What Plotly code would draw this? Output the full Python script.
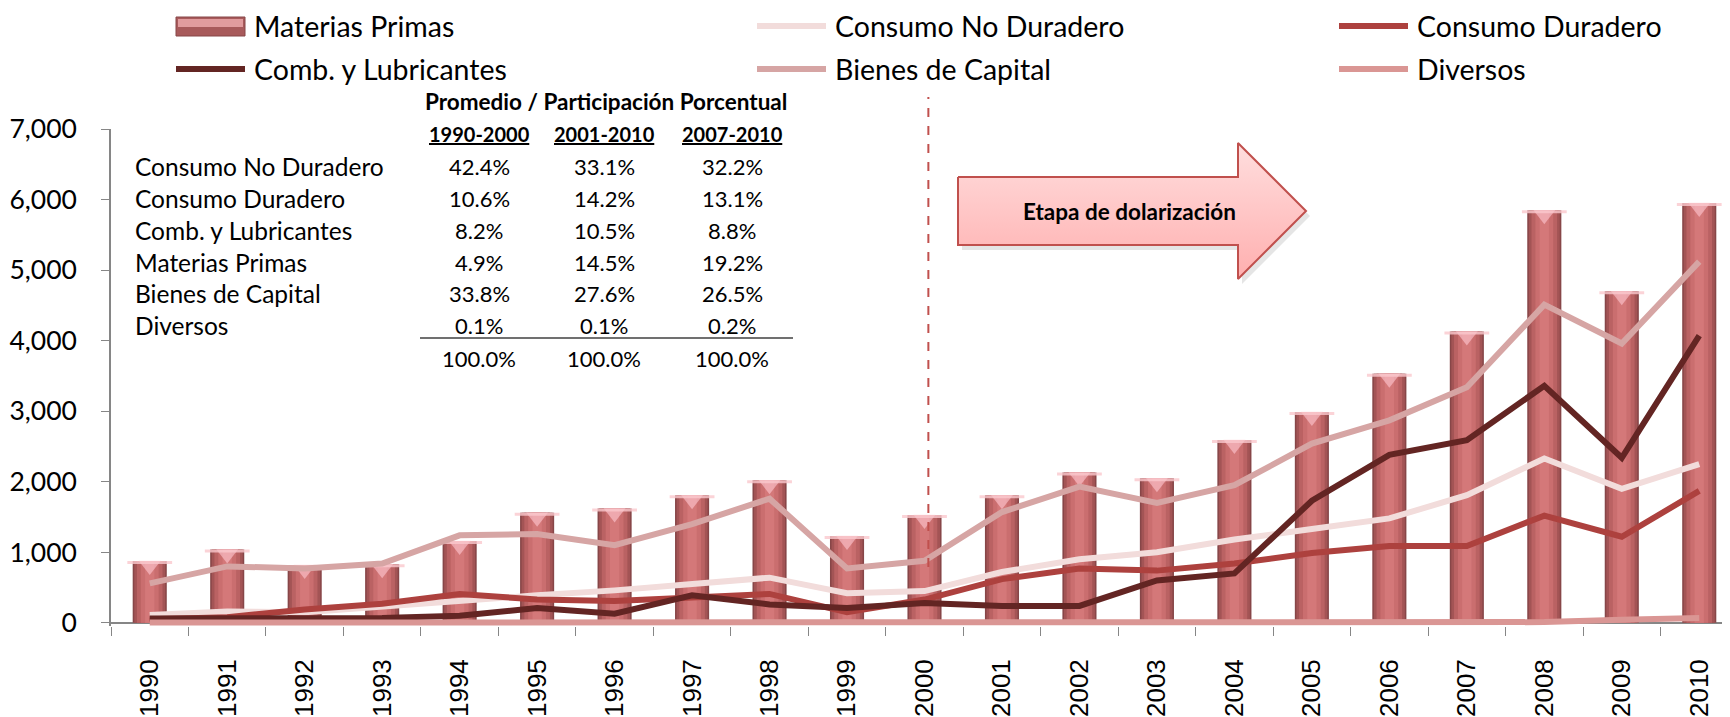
import plotly.graph_objects as go

years = [str(y) for y in range(1990, 2011)]
materias_primas = [875, 1040, 820, 830, 1160, 1560, 1620, 1810, 2020, 1230, 1530,
                   1810, 2130, 2050, 2590, 2990, 3530, 4130, 5850, 4700, 5950]
consumo_no_duradero = [110, 160, 150, 230, 330, 390, 460, 560, 640, 420, 450,
                       720, 900, 1000, 1180, 1330, 1480, 1810, 2330, 1900, 2250]
consumo_duradero = [50, 80, 190, 270, 410, 330, 310, 370, 410, 150, 330,
                    620, 770, 740, 840, 990, 1090, 1090, 1520, 1220, 1870]
comb_lubricantes = [60, 60, 70, 70, 100, 210, 130, 390, 260, 210, 280,
                    240, 240, 600, 700, 1730, 2380, 2590, 3360, 2340, 4070]
bienes_capital = [560, 800, 770, 840, 1240, 1260, 1100, 1400, 1760, 770, 880,
                  1570, 1930, 1700, 1950, 2540, 2870, 3340, 4510, 3960, 5120]
diversos = [5, 5, 5, 5, 5, 5, 5, 5, 5, 5, 5,
            5, 5, 5, 5, 5, 5, 5, 10, 45, 70]

y_ticks = [0, 1000, 2000, 3000, 4000, 5000, 6000, 7000]

table_title = "Promedio / Participación Porcentual"
table_periods = ["1990-2000", "2001-2010", "2007-2010"]
table_rows = ["Consumo No Duradero", "Consumo Duradero", "Comb. y Lubricantes",
              "Materias Primas", "Bienes de Capital", "Diversos"]
share_1990_2000 = ["42.4%", "10.6%", "8.2%", "4.9%", "33.8%", "0.1%"]
share_2001_2010 = ["33.1%", "14.2%", "10.5%", "14.5%", "27.6%", "0.1%"]
share_2007_2010 = ["32.2%", "13.1%", "8.8%", "19.2%", "26.5%", "0.2%"]
table_totals = ["100.0%", "100.0%", "100.0%"]

# page layout (the html body has an 8px margin, so the figure is offset by it)
OFF = 8
PAGE_W, PAGE_H = 1730, 717
W, H = PAGE_W - OFF, PAGE_H - OFF
P_LEFT, P_TOP, P_BOTTOM = 111, 129, 626          # plot area edges in page pixels
ML, MT, MB, MR = P_LEFT - OFF, P_TOP - OFF, H - (P_BOTTOM - OFF), 0
PW, PH = W - ML - MR, H - MT - MB
Y0, Y1 = -45, 7000


def px(p):
    return (p - P_LEFT) / PW


def py(p):
    return (P_BOTTOM - p) / PH


FONT = "Lato, 'Open Sans', sans-serif"
C_NO_DUR = "#f2dcdb"
C_DUR = "#ad413e"
C_COMB = "#632523"
C_BIEN = "#d6a5a4"
C_DIV = "#da9694"

fig = go.Figure()

# cylinder-like bars: layered widths for a horizontal shading
for w, c in [(0.44, "#874648"), (0.40, "#a35455"), (0.33, "#ba6263"),
             (0.23, "#ca6e6f"), (0.12, "#d47879")]:
    fig.add_trace(go.Bar(x=years, y=materias_primas, width=w, marker_color=c,
                         marker_line_width=0, showlegend=False, hoverinfo="skip"))

unit = (Y1 - Y0) / PH  # data units per pixel
fig.add_trace(go.Scatter(x=years, y=[v - 4.5 * unit for v in materias_primas],
                         mode="markers", showlegend=False, hoverinfo="skip",
                         marker=dict(symbol="triangle-down", size=19,
                                     color="rgba(255,200,210,0.6)", line_width=0)))
fig.add_trace(go.Scatter(x=years, y=[v - 1.5 * unit for v in materias_primas],
                         mode="markers", showlegend=False, hoverinfo="skip",
                         marker=dict(symbol="line-ew", size=32,
                                     line=dict(color="rgba(250,200,205,0.8)", width=3))))

for name, vals, col in [("Consumo No Duradero", consumo_no_duradero, C_NO_DUR),
                        ("Consumo Duradero", consumo_duradero, C_DUR),
                        ("Comb. y Lubricantes", comb_lubricantes, C_COMB),
                        ("Bienes de Capital", bienes_capital, C_BIEN),
                        ("Diversos", diversos, C_DIV)]:
    fig.add_trace(go.Scatter(x=years, y=vals, mode="lines", name=name,
                             line=dict(color=col, width=6), showlegend=False))

# arrow "Etapa de dolarización" drawn on an invisible pixel-space overlay (page pixels)
ax = [958, 1238, 1238, 1306, 1238, 1238, 958, 958]
ay = [177, 177, 143, 211, 279, 245, 245, 177]
fig.add_trace(go.Scatter(x=[v + 4 for v in ax], y=[v + 5 for v in ay], xaxis="x2", yaxis="y2",
                         mode="lines", fill="toself", fillcolor="rgba(0,0,0,0.10)",
                         line=dict(width=0), showlegend=False, hoverinfo="skip"))
fig.add_trace(go.Scatter(x=ax, y=ay, xaxis="x2", yaxis="y2", mode="lines", fill="toself",
                         fillgradient=dict(type="vertical", start=143, stop=279,
                                           colorscale=[[0, "#ffdede"], [1, "#ffafaf"]]),
                         line=dict(color="#c0504d", width=2), showlegend=False,
                         hoverinfo="skip"))

shapes = []
annotations = []


def note(x, y, text, font, xanchor="center"):
    annotations.append(dict(xref="paper", yref="paper", x=px(x), y=py(y), text=text,
                            showarrow=False, xanchor=xanchor, yanchor="middle", font=font))


# dashed separator at 2000
shapes.append(dict(type="line", xref="x", yref="paper", x0=10.05, x1=10.05,
                   y0=py(567), y1=py(97), line=dict(color="#c0504d", width=2, dash="dash")))

note(1129, 211, "<b>Etapa de dolarización</b>", dict(family=FONT, size=22.5, color="black"))

# manual legend
leg_font = dict(family=FONT, size=28.5, color="black")
col_x = [176, 757, 1339]
row_y = [26, 69]
legend_items = [
    ("Materias Primas", "bar", None, 0, 0),
    ("Consumo No Duradero", "line", C_NO_DUR, 1, 0),
    ("Consumo Duradero", "line", C_DUR, 2, 0),
    ("Comb. y Lubricantes", "line", C_COMB, 0, 1),
    ("Bienes de Capital", "line", C_BIEN, 1, 1),
    ("Diversos", "line", C_DIV, 2, 1),
]
for label, kind, col, ci, ri in legend_items:
    x0 = col_x[ci]
    yc = row_y[ri]
    if kind == "bar":
        shapes.append(dict(type="rect", xref="paper", yref="paper", x0=px(x0), x1=px(x0 + 69),
                           y0=py(yc + 10), y1=py(yc - 9), fillcolor="#a85a5b",
                           line=dict(color="#874648", width=1)))
        shapes.append(dict(type="rect", xref="paper", yref="paper", x0=px(x0 + 2), x1=px(x0 + 67),
                           y0=py(yc + 1), y1=py(yc - 7), fillcolor="#e19c9e",
                           line=dict(width=0)))
    else:
        shapes.append(dict(type="line", xref="paper", yref="paper", x0=px(x0), x1=px(x0 + 69),
                           y0=py(yc), y1=py(yc), line=dict(color=col, width=6)))
    note(x0 + 76, yc, label, leg_font, xanchor="left")

# table of average shares
lab_font = dict(family=FONT, size=24.5, color="black")
num_font = dict(family=FONT, size=22, color="black")
note(606, 102, "<b>" + table_title + "</b>", dict(family=FONT, size=22.5, color="black"))
col_centers = [479, 604, 732]
for cx, per in zip(col_centers, table_periods):
    note(cx, 134, "<b><u>" + per + "</u></b>", dict(family=FONT, size=20, color="black"))
row_ys = [166, 198, 230, 262, 293, 325]
for i, lab in enumerate(table_rows):
    note(133, row_ys[i], lab, lab_font, xanchor="left")
    for cx, vals in zip(col_centers, [share_1990_2000, share_2001_2010, share_2007_2010]):
        note(cx, row_ys[i], vals[i], num_font)
for cx, t in zip(col_centers, table_totals):
    note(cx, 358, t, num_font)
shapes.append(dict(type="line", xref="paper", yref="paper", x0=px(420), x1=px(793),
                   y0=py(338), y1=py(338), line=dict(color="#404040", width=1.5)))

fig.update_layout(
    width=W, height=H,
    margin=dict(l=ML, r=MR, t=MT, b=MB, autoexpand=False),
    paper_bgcolor="white", plot_bgcolor="white",
    barmode="overlay",
    showlegend=False,
    shapes=shapes,
    annotations=annotations,
    xaxis=dict(type="category", range=[-0.5, 20.5 - 8 / 77.5], tickson="boundaries",
               ticks="outside", ticklen=9, tickcolor="#868686", showline=False,
               showgrid=False, tickangle=-90, automargin=False,
               tickfont=dict(family="Liberation Sans, Arial, sans-serif", size=26,
                             color="black"),
               ticklabelstandoff=27),
    yaxis=dict(range=[Y0, Y1], tickvals=y_ticks, tickformat=",", ticks="outside",
               ticklen=8, tickcolor="#868686", showline=True, linecolor="#868686",
               linewidth=1.5, showgrid=False, zeroline=True, zerolinecolor="#868686",
               zerolinewidth=1.5, automargin=False,
               tickfont=dict(family=FONT, size=26.5, color="black"),
               ticklabelstandoff=19),
    xaxis2=dict(overlaying="x", range=[P_LEFT, P_LEFT + PW], visible=False),
    yaxis2=dict(overlaying="y", range=[P_BOTTOM, P_TOP], visible=False),
)

fig.write_html("out.html")
